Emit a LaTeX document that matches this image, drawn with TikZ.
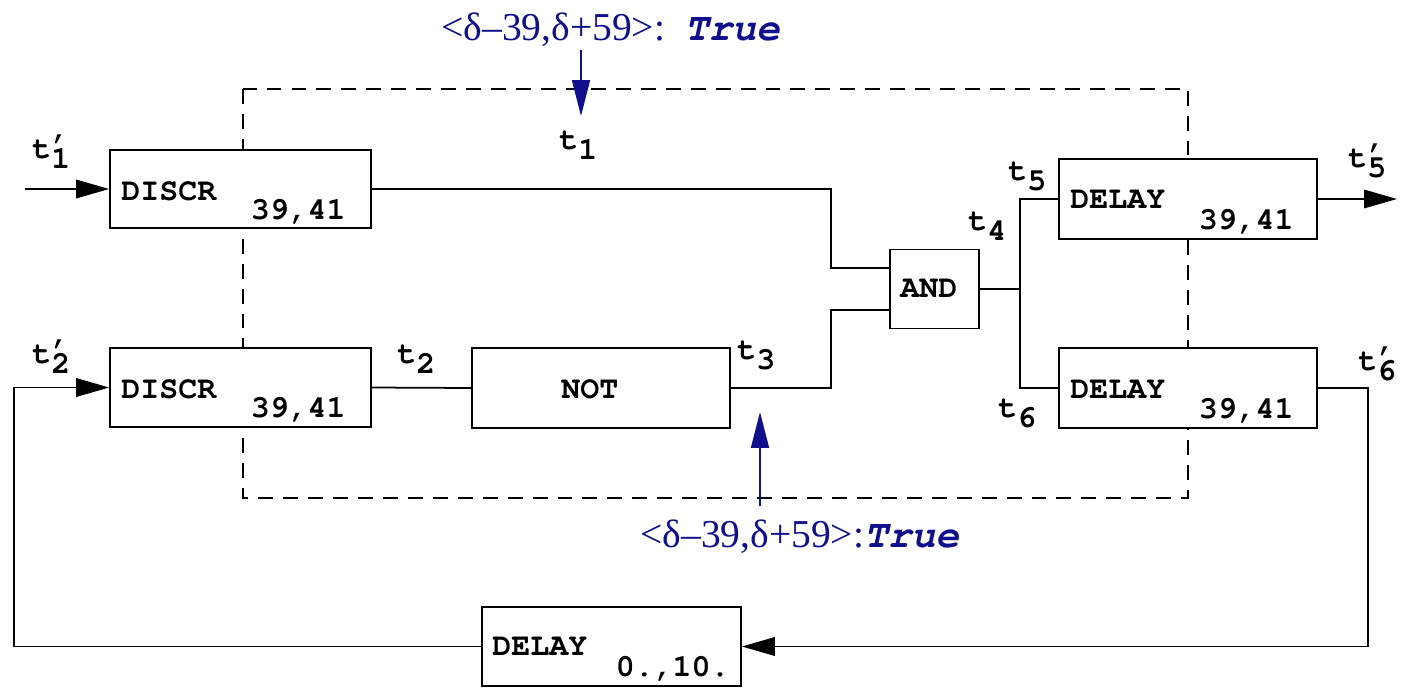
\documentclass[tikz,border=0pt]{standalone}
\usepackage[T1]{fontenc}
\usepackage{fontspec}
\usepackage{tikz}
\usetikzlibrary{arrows.meta, calc}
\newfontfamily\condserif{Liberation Serif}
\newcommand{\courfont}{\fontencoding{T1}\fontfamily{pcr}\fontseries{b}\fontshape{n}\fontsize{18}{20}\selectfont}
\newcommand{\courslant}{\fontencoding{T1}\fontfamily{pcr}\fontseries{b}\fontshape{sl}\fontsize{22.5}{24}\selectfont}
\newcommand{\tsub}[1]{t\raisebox{-5.7pt}{#1}}
\newcommand{\tprm}[1]{t\rlap{\kern-0.5pt\raisebox{2.2pt}{'}}\raisebox{-5.7pt}{#1}}
\definecolor{probeBlue}{HTML}{10108C}
\tikzset{
  blk/.style={
    draw, line width=1pt, fill=white, inner sep=0pt
  },
  blktxt/.style={font=\courfont, inner sep=0pt},
  sig/.style={font=\courfont, inner sep=0pt, anchor=base west},
  wire/.style={line width=1pt},
  arr/.style={-{Triangle[length=0.66cm, width=0.37cm]}, line width=1pt},
  probe/.style={-{Triangle[length=0.72cm, width=0.36cm]}, line width=1pt, draw=probeBlue, fill=probeBlue},
  cond/.style={font=\condserif\fontsize{22.5}{24}\selectfont, text=probeBlue, inner sep=0pt, anchor=base west}
}
\begin{document}
\begin{tikzpicture}[
  x=0.02cm, y=-0.02cm,
  fence/.style={line width=1pt, dash pattern=on 8.5pt off 5.7pt}
]
\useasboundingbox (0,0) rectangle (1401,687);

\draw[fence] (243,89) rectangle (1188,498);

\node[blk, minimum width=5.22cm, minimum height=1.56cm] (discrA) at (240.5,189) {};
\node[blk, minimum width=5.22cm, minimum height=1.58cm] (discrB) at (240.5,387.5) {};
\node[blk, minimum width=5.16cm, minimum height=1.6cm] (notbox) at (601,388) {};
\node[blk, minimum width=1.78cm, minimum height=1.58cm] (andbox) at (934.5,289) {};
\node[blk, minimum width=5.16cm, minimum height=1.6cm] (delayA) at (1188,199) {};
\node[blk, minimum width=5.16cm, minimum height=1.6cm] (delayB) at (1188,388) {};
\node[blk, minimum width=5.18cm, minimum height=1.58cm] (delayC) at (611.5,646.5) {};

\node[blktxt, anchor=base west] (discrAname) at (121,200) {DISCR};
\node[blktxt, anchor=base east] (discrApar) at (346,219) {39,41};
\node[blktxt, anchor=base west] (discrBname) at (121,398) {DISCR};
\node[blktxt, anchor=base east] (discrBpar) at (346,417) {39,41};
\node[blktxt, anchor=base west] (notname) at (561,398) {NOT};
\node[blktxt, anchor=base west] (andname) at (900,297) {AND};
\node[blktxt, anchor=base west] (delayAname) at (1070,208) {DELAY};
\node[blktxt, anchor=base east] (delayApar) at (1294,229) {39,41};
\node[blktxt, anchor=base west] (delayBname) at (1070,398) {DELAY};
\node[blktxt, anchor=base east] (delayBpar) at (1294,418) {39,41};
\node[blktxt, anchor=base west] (delayCname) at (492,655) {DELAY};
\node[blktxt, anchor=base east] (delayCpar) at (730,676) {0.,10.};

\node[sig] (lbA) at (32,158) {\tprm{1}};
\node[sig] (lbB) at (32,363) {\tprm{2}};
\node[sig] (lb1) at (559,149) {\tsub{1}};
\node[sig] (lb2) at (397,363) {\tsub{2}};
\node[sig] (lb3) at (737,359) {\tsub{3}};
\node[sig] (lb4) at (968,230) {\tsub{4}};
\node[sig] (lb5) at (1008,180) {\tsub{5}};
\node[sig] (lb6) at (998,417) {\tsub{6}};
\node[sig] (lbE) at (1348,167) {\tprm{5}};
\node[sig] (lbF) at (1358,370) {\tprm{6}};

\coordinate (inA) at (25,189);
\coordinate (outA) at (1397,199);
\coordinate (andinA) at ($(andbox.west)+(0,-21)$);
\coordinate (andinB) at ($(andbox.west)+(0,21)$);
\coordinate (fork) at ($(andbox.east)+(40,0)$);

\draw[arr] (inA) -- (discrA.west);
\draw[wire] (discrA.east) -- ++(459,0) |- (andinA);
\draw[wire] (discrB.east) -- (notbox.west);
\draw[wire] (notbox.east) -- ++(100,0) |- (andinB);
\draw[wire] (andbox.east) -- (fork);
\draw[wire] (fork) |- (delayA.west);
\draw[wire] (fork) |- (delayB.west);
\draw[arr] (delayA.east) -- (outA);
\draw[arr] (delayB.east) -- ++(50,0) |- (delayC.east);
\draw[arr] (delayC.west) -- ++(-467,0) |- (discrB.west);

\node[cond] (condA) at (441,40) {<δ–39,δ+59>:\ \ {\courslant True}};
\node[cond] (condB) at (640,547) {<δ–39,δ+59>:{\courslant True}};
\coordinate (condAfoot) at (581,50);
\coordinate (condAtip) at (581,116);
\coordinate (condBfoot) at (760,506);
\coordinate (condBtip) at (760,412);
\draw[probe] (condAfoot) -- (condAtip);
\draw[probe] (condBfoot) -- (condBtip);

\end{tikzpicture}
\end{document}
